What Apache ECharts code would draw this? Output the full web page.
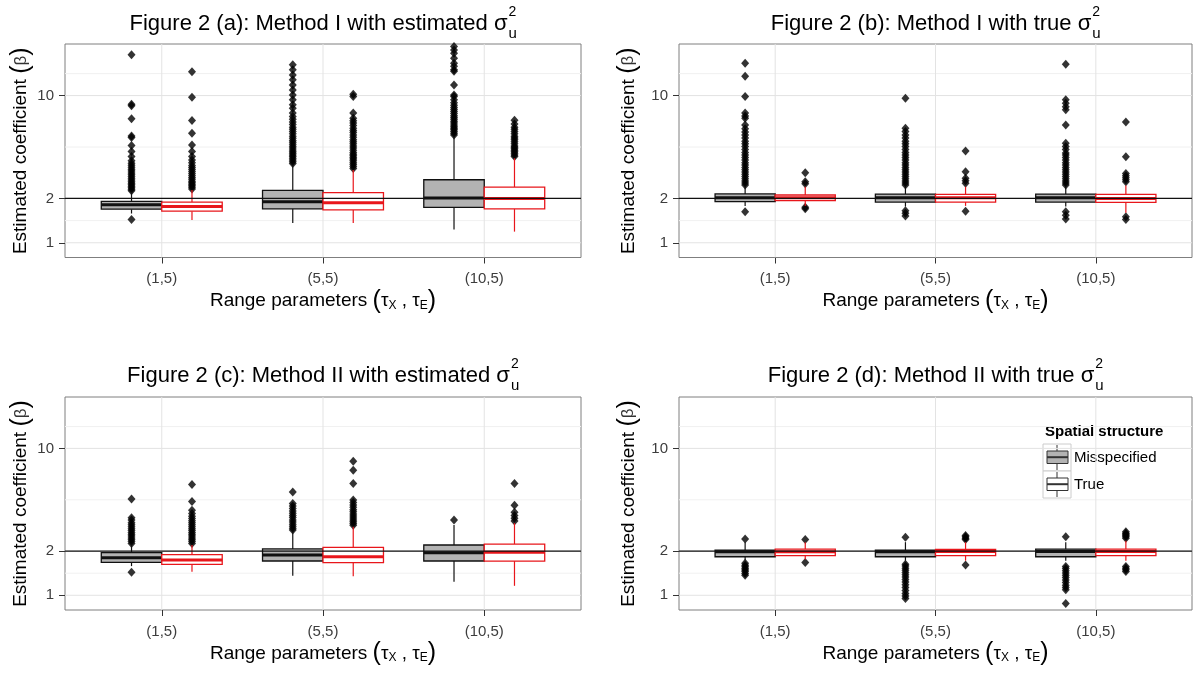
<!DOCTYPE html>
<html>
<head>
<meta charset="utf-8">
<script src="https://cdn.jsdelivr.net/npm/echarts@6/dist/echarts.min.js"></script>
<style>
  html, body { margin: 0; padding: 0; background: #ffffff; }
  #chart { width: 1201px; height: 673px; }
</style>
</head>
<body>
<div id="chart"></div>
<script>
// ---- data -----------------------------------------------------------------
const categories = ['(1,5)', '(5,5)', '(10,5)'];
const groupNames = ['Misspecified', 'True'];
const yBreaks = [1, 2, 10];
const yMinorBreaks = [1.414, 4.47, 14.1];
const yRange = [0.794, 22.4];
const trueBeta = 2;
const panelTitles = [
  'Figure 2 (a): Method I with estimated σ',
  'Figure 2 (b): Method I with true σ',
  'Figure 2 (c): Method II with estimated σ',
  'Figure 2 (d): Method II with true σ'
];

// boxes: [lower whisker, Q1, median, Q3, upper whisker], one row per category
const boxA_Mis  = [[1.58, 1.69, 1.81, 1.91, 2.22], [1.36, 1.70, 1.90, 2.27, 3.38], [1.23, 1.74, 2.01, 2.68, 5.26]];
const boxA_True = [[1.43, 1.64, 1.76, 1.89, 2.28], [1.36, 1.67, 1.87, 2.19, 3.12], [1.19, 1.70, 2.00, 2.39, 3.75]];
const outA_Mis = [
  [1.44, 2.26, 2.31, 2.36, 2.42, 2.48, 2.54, 2.6, 2.67, 2.74, 2.82, 2.9, 2.98, 3.07, 3.16, 3.26, 3.36, 3.47, 3.6, 3.85, 4.16, 4.57, 5.18, 5.32, 6.97, 8.51, 8.74, 18.9],
  [3.45, 3.55, 3.65, 3.75, 3.85, 3.95, 4.05, 4.15, 4.27, 4.4, 4.53, 4.67, 4.81, 4.96, 5.12, 5.3, 5.5, 5.7, 5.9, 6.1, 6.35, 6.6, 6.9, 7.2, 7.6, 8.2, 8.65, 9.35, 10.1, 10.9, 11.8, 12.8, 13.8, 15.0, 16.2],
  [5.4, 5.55, 5.7, 5.85, 6.0, 6.15, 6.3, 6.5, 6.7, 6.9, 7.1, 7.3, 7.55, 7.8, 8.05, 8.3, 8.6, 8.95, 9.35, 9.84, 10.1, 11.8, 14.6, 15.0, 15.8, 16.6, 17.9, 19.4, 20.4, 21.5]
];
const outA_True = [
  [2.32, 2.38, 2.44, 2.5, 2.56, 2.62, 2.7, 2.78, 2.86, 2.95, 3.05, 3.15, 3.25, 3.35, 3.5, 3.65, 3.85, 4.16, 4.62, 5.55, 6.76, 9.75, 14.5],
  [3.2, 3.3, 3.4, 3.5, 3.6, 3.7, 3.8, 3.9, 4.0, 4.1, 4.25, 4.4, 4.55, 4.7, 4.85, 5.0, 5.2, 5.4, 5.6, 5.8, 6.0, 6.25, 6.5, 6.75, 7.0, 7.6, 9.85, 10.2],
  [3.85, 3.95, 4.05, 4.15, 4.25, 4.35, 4.45, 4.55, 4.7, 4.85, 5.0, 5.15, 5.3, 5.5, 5.7, 5.9, 6.1, 6.4, 6.8]
];

const boxB_Mis  = [[1.78, 1.90, 2.02, 2.145, 2.40], [1.76, 1.89, 2.02, 2.14, 2.40], [1.76, 1.89, 2.02, 2.14, 2.40]];
const boxB_True = [[1.78, 1.93, 2.02, 2.11, 2.40], [1.78, 1.89, 2.02, 2.13, 2.40], [1.60, 1.88, 2.00, 2.13, 2.45]];
const outB_Mis = [
  [1.625, 2.47, 2.55, 2.63, 2.72, 2.82, 2.92, 3.02, 3.13, 3.25, 3.38, 3.5, 3.65, 3.8, 3.95, 4.1, 4.3, 4.5, 4.7, 4.9, 5.15, 5.4, 5.65, 5.95, 6.3, 7.0, 7.26, 7.6, 9.84, 13.5, 16.6],
  [1.65, 1.585, 1.52, 2.47, 2.55, 2.63, 2.72, 2.82, 2.92, 3.02, 3.13, 3.25, 3.38, 3.5, 3.65, 3.8, 3.95, 4.1, 4.3, 4.5, 4.7, 4.9, 5.15, 5.4, 5.69, 6.0, 9.6],
  [1.625, 1.54, 1.45, 2.47, 2.55, 2.63, 2.72, 2.82, 2.92, 3.02, 3.13, 3.25, 3.38, 3.5, 3.65, 3.8, 3.95, 4.07, 4.3, 4.5, 4.74, 6.32, 8.0, 8.4, 8.87, 9.35, 16.3]
];
const outB_True = [
  [1.74, 1.70, 2.52, 2.6, 2.99],
  [1.64, 2.54, 2.64, 2.74, 3.04, 4.2],
  [1.5, 1.44, 2.6, 2.68, 2.76, 2.85, 2.96, 3.84, 6.6]
];

const boxC_Mis  = [[1.58, 1.677, 1.80, 1.95, 2.20], [1.36, 1.712, 1.88, 2.07, 2.71], [1.237, 1.712, 1.95, 2.20, 3.01]];
const boxC_True = [[1.447, 1.625, 1.74, 1.89, 2.20], [1.35, 1.667, 1.83, 2.12, 2.93], [1.16, 1.71, 1.96, 2.23, 3.10]];
const outC_Mis = [
  [1.434, 2.25, 2.32, 2.39, 2.46, 2.53, 2.6, 2.68, 2.76, 2.84, 2.93, 3.02, 3.12, 3.25, 3.37, 4.52],
  [2.78, 2.86, 2.95, 3.05, 3.15, 3.26, 3.38, 3.5, 3.62, 3.75, 3.9, 4.05, 4.22, 5.06],
  [3.25]
];
const outC_True = [
  [2.25, 2.32, 2.39, 2.46, 2.53, 2.6, 2.68, 2.76, 2.84, 2.93, 3.02, 3.12, 3.22, 3.33, 3.45, 3.6, 3.8, 4.36, 5.69],
  [3.0, 3.08, 3.17, 3.26, 3.36, 3.47, 3.58, 3.7, 3.83, 3.97, 4.12, 4.28, 4.45, 5.78, 7.11, 8.17],
  [3.2, 3.35, 3.5, 3.67, 4.11, 5.78]
];

const boxD_Mis  = [[1.73, 1.83, 1.98, 2.03, 2.30], [1.72, 1.83, 1.98, 2.03, 2.30], [1.72, 1.83, 1.99, 2.06, 2.30]];
const boxD_True = [[1.75, 1.86, 1.98, 2.06, 2.30], [1.72, 1.86, 1.99, 2.05, 2.30], [1.72, 1.86, 1.99, 2.06, 2.35]];
const outD_Mis = [
  [2.42, 1.65, 1.6, 1.565, 1.52, 1.486, 1.45, 1.41, 1.37, 0.79],
  [2.48, 1.63, 1.58, 1.53, 1.48, 1.43, 1.38, 1.33, 1.28, 1.23, 1.18, 1.13, 1.08, 1.03, 0.99, 0.95],
  [2.5, 1.57, 1.52, 1.47, 1.42, 1.37, 1.32, 1.27, 1.22, 1.17, 1.13, 1.09, 0.88]
];
const outD_True = [
  [2.4, 1.67],
  [2.4, 2.45, 2.5, 2.55, 1.61],
  [2.45, 2.5, 2.55, 2.6, 2.65, 2.71, 1.57, 1.53, 1.49, 1.45]
];

// ---- layout & style ---------------------------------------------------------
const FONT = '"Liberation Sans", Arial, sans-serif';
const panels = [
  { box: [boxA_Mis, boxA_True], out: [outA_Mis, outA_True], grid: { left: 65,  top: 44,  width: 516, height: 213.5 }, yGap: 30 },
  { box: [boxB_Mis, boxB_True], out: [outB_Mis, outB_True], grid: { left: 679, top: 44,  width: 513, height: 213.5 }, yGap: 38 },
  { box: [boxC_Mis, boxC_True], out: [outC_Mis, outC_True], grid: { left: 65,  top: 397, width: 516, height: 213 },   yGap: 30 },
  { box: [boxD_Mis, boxD_True], out: [outD_Mis, outD_True], grid: { left: 679, top: 397, width: 513, height: 213 },   yGap: 38 }
];
const groupStyle = [
  { fill: '#b3b3b3', edge: '#111111' },
  { fill: '#ffffff', edge: '#e8161b' }
];
const DODGE = 0.1875;      // half of the dodge width (0.75 / 2 / 2)
const HALF_BOX = 0.1875;   // half box width in category units
const catPos = categories.map((c, k) => k + 1);

// ---- series builders -----------------------------------------------------------
function gridLineSeries(i) {
  const hLines = yBreaks.map(v => [v, 1]).concat(yMinorBreaks.map(v => [v, 0]));
  return {
    type: 'custom', xAxisIndex: i, yAxisIndex: i, z: 1, silent: true,
    data: hLines.map(h => [2, h[0], h[1]]),     // x is a placeholder; only y is used
    encode: { x: 0, y: 1 },
    renderItem(params, api) {
      const cs = params.coordSys;
      const y = api.coord([2, api.value(1)])[1];
      const major = api.value(2) === 1;
      return {
        type: 'line',
        shape: { x1: cs.x, y1: y, x2: cs.x + cs.width, y2: y },
        style: { stroke: major ? '#e3e3e3' : '#f1f1f1', lineWidth: 1 }
      };
    }
  };
}

function catLineSeries(i) {
  return {
    type: 'custom', xAxisIndex: i, yAxisIndex: i, z: 1, silent: true,
    data: catPos.map(p => [p, trueBeta]),
    encode: { x: 0, y: 1 },
    renderItem(params, api) {
      const cs = params.coordSys;
      const x = api.coord([api.value(0), trueBeta])[0];
      return {
        type: 'line',
        shape: { x1: x, y1: cs.y, x2: x, y2: cs.y + cs.height },
        style: { stroke: '#e3e3e3', lineWidth: 1 }
      };
    }
  };
}

function boxSeries(i, g, stats) {
  const off = g === 0 ? -DODGE : DODGE;
  const st = groupStyle[g];
  return {
    type: 'custom', name: groupNames[g], xAxisIndex: i, yAxisIndex: i, z: 3, silent: true,
    data: stats.map((s, k) => [catPos[k] + off].concat(s)),
    encode: { x: 0, y: [1, 2, 3, 4, 5] },
    renderItem(params, api) {
      const x = api.value(0);
      const v = [1, 2, 3, 4, 5].map(d => api.value(d));
      const py = v.map(val => api.coord([x, val])[1]);
      const cx = api.coord([x, v[2]])[0];
      const xl = api.coord([x - HALF_BOX, v[2]])[0];
      const xr = api.coord([x + HALF_BOX, v[2]])[0];
      return {
        type: 'group',
        children: [
          { type: 'line', shape: { x1: cx, y1: py[0], x2: cx, y2: py[1] }, style: { stroke: st.edge, lineWidth: 1.2 } },
          { type: 'line', shape: { x1: cx, y1: py[3], x2: cx, y2: py[4] }, style: { stroke: st.edge, lineWidth: 1.2 } },
          { type: 'rect', shape: { x: xl, y: py[3], width: xr - xl, height: py[1] - py[3] },
            style: { fill: st.fill, stroke: st.edge, lineWidth: 1.3 } },
          { type: 'line', shape: { x1: xl, y1: py[2], x2: xr, y2: py[2] }, style: { stroke: st.edge, lineWidth: 3 } }
        ]
      };
    }
  };
}

function outlierSeries(i, g, outs) {
  const off = g === 0 ? -DODGE : DODGE;
  const pts = [];
  outs.forEach((list, k) => list.forEach(v => pts.push([catPos[k] + off, v])));
  return {
    type: 'scatter', xAxisIndex: i, yAxisIndex: i, z: 2, silent: true,
    symbol: 'diamond', symbolSize: [8, 9],
    itemStyle: { color: '#000000' },
    data: pts
  };
}

function refLineSeries(i) {
  return {
    type: 'custom', xAxisIndex: i, yAxisIndex: i, z: 5, silent: true,
    data: [[2, trueBeta]],
    encode: { x: 0, y: 1 },
    renderItem(params, api) {
      const cs = params.coordSys;
      const y = api.coord([2, api.value(1)])[1];
      return {
        type: 'line',
        shape: { x1: cs.x, y1: y, x2: cs.x + cs.width, y2: y },
        style: { stroke: '#111111', lineWidth: 1.3 }
      };
    }
  };
}

// ---- axes ---------------------------------------------------------------------
const grids = [], xAxes = [], yAxes = [], series = [];
panels.forEach((p, i) => {
  grids.push(Object.assign({ show: true, borderColor: '#7f7f7f', borderWidth: 1, backgroundColor: '#ffffff' }, p.grid));
  xAxes.push({
    type: 'value', gridIndex: i, min: 0.4, max: 3.6,
    name: '{a|Range parameters }{p|(}{a|τ}{s|X}{a| , τ}{s|E}{p|)}',
    nameLocation: 'middle', nameGap: 31,
    nameTextStyle: {
      rich: {
        a: { fontFamily: FONT, fontSize: 19, color: '#000' },
        p: { fontFamily: FONT, fontSize: 25, color: '#000' },
        s: { fontFamily: FONT, fontSize: 12, color: '#000', padding: [9, 0, 0, 0] }
      }
    },
    axisLine: { show: false },
    splitLine: { show: false },
    axisTick: { show: true, length: 6, customValues: catPos, lineStyle: { color: '#333333', width: 1 } },
    axisLabel: {
      customValues: catPos, margin: 14,
      fontFamily: FONT, fontSize: 15, color: '#3d3d3d',
      formatter: v => categories[Math.round(v) - 1]
    }
  });
  yAxes.push({
    type: 'log', logBase: 10, gridIndex: i, min: yRange[0], max: yRange[1],
    name: '{a|Estimated coefficient }{p|(}{b|β}{p|)}',
    nameLocation: 'middle', nameGap: p.yGap, nameRotate: 90,
    nameTextStyle: {
      rich: {
        a: { fontFamily: FONT, fontSize: 19, color: '#000' },
        p: { fontFamily: FONT, fontSize: 25, color: '#000' },
        b: { fontFamily: FONT, fontSize: 17, color: '#333' }
      }
    },
    axisLine: { show: false },
    splitLine: { show: false },
    minorSplitLine: { show: false },
    axisTick: { show: true, length: 6, customValues: yBreaks, lineStyle: { color: '#333333', width: 1 } },
    axisLabel: {
      customValues: yBreaks, margin: 11,
      fontFamily: FONT, fontSize: 15, color: '#3d3d3d',
      formatter: v => String(+Number(v).toPrecision(3))
    }
  });
  series.push(gridLineSeries(i), catLineSeries(i));
  [0, 1].forEach(g => {
    series.push(outlierSeries(i, g, p.out[g]));
    series.push(boxSeries(i, g, p.box[g]));
  });
  series.push(refLineSeries(i));
});

// ---- titles with stacked super/subscript -----------------------------------------
const measureCtx = document.createElement('canvas').getContext('2d');
function textWidth(str, size, weight) {
  measureCtx.font = (weight || 'normal') + ' ' + size + 'px ' + FONT;
  return measureCtx.measureText(str).width;
}
const TITLE_SIZE = 22;
const graphics = [];
panels.forEach((p, i) => {
  const cx = p.grid.left + p.grid.width / 2;
  const cy = i < 2 ? 24 : 376;
  const w = textWidth(panelTitles[i], TITLE_SIZE);
  const x0 = cx - (w + 9) / 2;
  graphics.push(
    { type: 'text', silent: true,
      style: { text: panelTitles[i], x: x0, y: cy, font: TITLE_SIZE + 'px ' + FONT, fill: '#000', align: 'left', verticalAlign: 'middle' } },
    { type: 'text', silent: true,
      style: { text: '2', x: x0 + w + 1, y: cy - 11.5, font: '14px ' + FONT, fill: '#000', align: 'left', verticalAlign: 'middle' } },
    { type: 'text', silent: true,
      style: { text: 'u', x: x0 + w + 1, y: cy + 10, font: '15px ' + FONT, fill: '#000', align: 'left', verticalAlign: 'middle' } }
  );
});

// ---- legend inside panel (d) ---------------------------------------------------------
const legendKeys = groupNames.map((name, g) => {
  const top = 444 + g * 27;
  return [
    { type: 'rect', shape: { x: 1043, y: top, width: 28, height: 27 }, style: { fill: '#ffffff', stroke: '#cccccc', lineWidth: 1 } },
    { type: 'line', shape: { x1: 1057, y1: top + 1, x2: 1057, y2: top + 26 }, style: { stroke: '#333333', lineWidth: 1 } },
    { type: 'rect', shape: { x: 1047, y: top + 7, width: 21, height: 12.5 }, style: { fill: g === 0 ? '#b3b3b3' : '#ffffff', stroke: '#333333', lineWidth: 1 } },
    { type: 'line', shape: { x1: 1047, y1: top + 13.2, x2: 1068, y2: top + 13.2 }, style: { stroke: '#333333', lineWidth: 2 } },
    { type: 'text', style: { text: name, x: 1074, y: top + 14, font: '15px ' + FONT, fill: '#000', align: 'left', verticalAlign: 'middle' } }
  ];
});
graphics.push({
  type: 'group', silent: true, z: 20,
  children: [
    { type: 'rect', shape: { x: 1040, y: 421, width: 132, height: 80 }, style: { fill: '#ffffff' } },
    { type: 'text', style: { text: 'Spatial structure', x: 1045, y: 432, font: 'bold 15px ' + FONT, fill: '#000', align: 'left', verticalAlign: 'middle' } }
  ].concat(legendKeys[0], legendKeys[1])
});

const chart = echarts.init(document.getElementById('chart'), null, { renderer: 'canvas' });
chart.setOption({
  animation: false,
  backgroundColor: '#ffffff',
  textStyle: { fontFamily: FONT },
  grid: grids,
  xAxis: xAxes,
  yAxis: yAxes,
  series: series,
  graphic: { elements: graphics }
});
</script>
</body>
</html>
